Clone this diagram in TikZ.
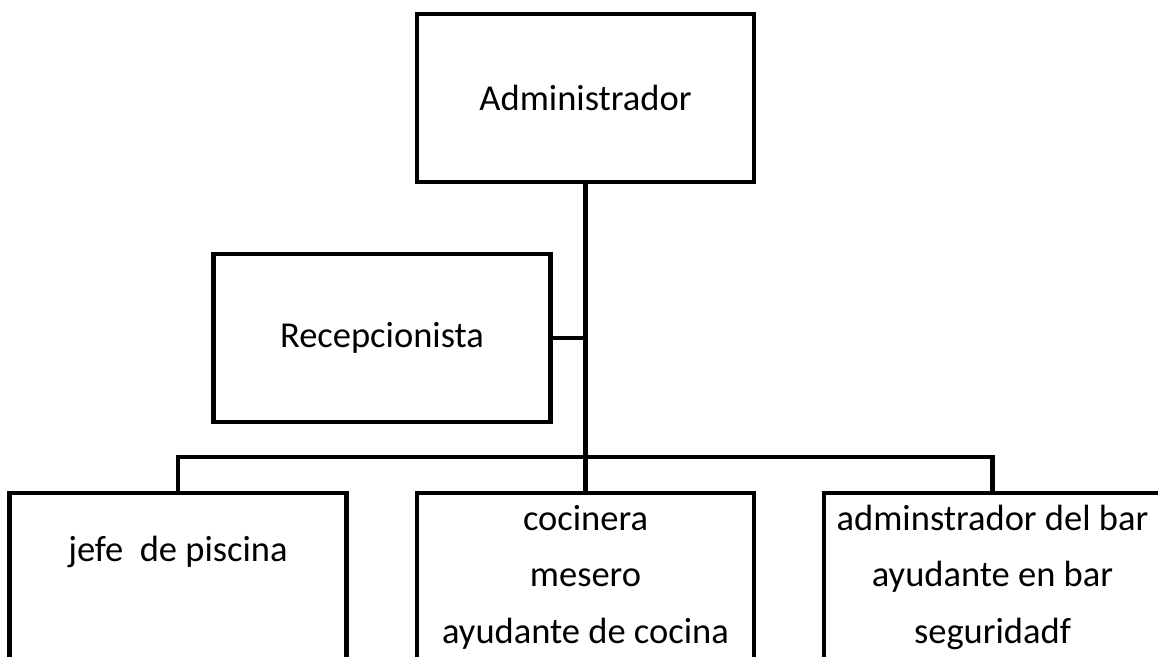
\documentclass[tikz,border=0pt]{standalone}
\usepackage{fontspec}
\setmainfont{Carlito}

\tikzset{
    puesto/.style={draw, line width=4.5pt, minimum width=337pt, minimum height=168pt,
        align=center, inner sep=0pt, font=\fontsize{36.5}{56.5}\selectfont},
    conector/.style={line width=4.5pt}
}

\begin{document}
\begin{tikzpicture}[x=1pt, y=-1pt]
                \clip (0, 0) rectangle (1158, 656);
                \fill[white](0, 0) rectangle (1158, 656);

                % niveles del organigrama
                \node[puesto] (admin) at (585.5, 98) {Administrador};
                \node[puesto] (recep) at (382, 338) {Recepcionista};
                \node[puesto] (jefe) at (178, 577) {jefe\ \ de piscina\\[-18pt] \strut};
                \node[puesto] (cocina) at (585.5, 577) {cocinera\\ mesero\\ ayudante de cocina};
                \node[puesto] (bar) at (992.5, 577) {adminstrador del bar\\ ayudante en bar\\ seguridadf};

                \coordinate (bus) at (585.5, 457);

                \draw[conector](admin.south)--(cocina.north);
                \draw[conector](recep.east)--(recep.east -| admin.south);
                \draw[conector](jefe.north)|-(bus)-|(bar.north);
            \end{tikzpicture}
\end{document}
